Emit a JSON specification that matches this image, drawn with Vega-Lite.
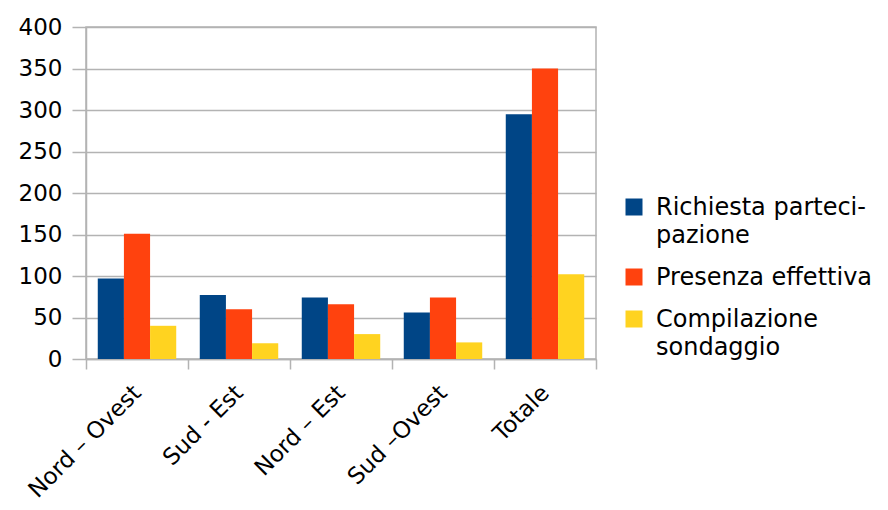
{
  "$schema": "https://vega.github.io/schema/vega-lite/v6.json",
  "width": 510,
  "height": 332,
  "autosize": "none",
  "padding": {"left": 86, "top": 27, "right": 292, "bottom": 151},
  "background": "white",
  "config": {
    "view": {"stroke": "#b3b3b3", "strokeWidth": 1.5},
    "font": "DejaVu Sans"
  },
  "data": {
    "values": [
      {"region": "Nord – Ovest", "series": "Richiesta partecipazione", "value": 97},
      {"region": "Nord – Ovest", "series": "Presenza effettiva", "value": 151},
      {"region": "Nord – Ovest", "series": "Compilazione sondaggio", "value": 40},
      {"region": "Sud - Est", "series": "Richiesta partecipazione", "value": 77},
      {"region": "Sud - Est", "series": "Presenza effettiva", "value": 60},
      {"region": "Sud - Est", "series": "Compilazione sondaggio", "value": 19},
      {"region": "Nord – Est", "series": "Richiesta partecipazione", "value": 74},
      {"region": "Nord – Est", "series": "Presenza effettiva", "value": 66},
      {"region": "Nord – Est", "series": "Compilazione sondaggio", "value": 30},
      {"region": "Sud –Ovest", "series": "Richiesta partecipazione", "value": 56},
      {"region": "Sud –Ovest", "series": "Presenza effettiva", "value": 74},
      {"region": "Sud –Ovest", "series": "Compilazione sondaggio", "value": 20},
      {"region": "Totale", "series": "Richiesta partecipazione", "value": 295},
      {"region": "Totale", "series": "Presenza effettiva", "value": 350},
      {"region": "Totale", "series": "Compilazione sondaggio", "value": 102}
    ]
  },
  "mark": {"type": "bar"},
  "encoding": {
    "x": {
      "field": "region",
      "type": "nominal",
      "sort": null,
      "title": null,
      "scale": {"paddingInner": 0, "paddingOuter": 0},
      "axis": {
        "tickBand": "extent",
        "labelAngle": -45,
        "labelAlign": "right",
        "labelBaseline": "middle",
        "labelFont": "DejaVu Sans",
        "labelFontSize": 23,
        "labelColor": "#000",
        "labelPadding": 20,
        "tickColor": "#b3b3b3",
        "tickSize": 10,
        "tickWidth": 1.5,
        "domainColor": "#b3b3b3",
        "domainWidth": 1.5,
        "grid": false
      }
    },
    "xOffset": {
      "field": "series",
      "sort": ["Richiesta partecipazione", "Presenza effettiva", "Compilazione sondaggio"],
      "scale": {"paddingInner": 0, "paddingOuter": 0.45}
    },
    "y": {
      "field": "value",
      "type": "quantitative",
      "title": null,
      "scale": {"domain": [0, 400], "nice": false},
      "axis": {
        "values": [0, 50, 100, 150, 200, 250, 300, 350, 400],
        "labelFont": "DejaVu Sans",
        "labelFontSize": 23,
        "labelColor": "#000",
        "labelPadding": 10,
        "tickSize": 14,
        "tickColor": "#b3b3b3",
        "tickWidth": 1.5,
        "gridColor": "#b3b3b3",
        "gridWidth": 1.5,
        "domainColor": "#b3b3b3",
        "domainWidth": 1.5
      }
    },
    "color": {
      "field": "series",
      "type": "nominal",
      "sort": ["Richiesta partecipazione", "Presenza effettiva", "Compilazione sondaggio"],
      "scale": {
        "domain": ["Richiesta partecipazione", "Presenza effettiva", "Compilazione sondaggio"],
        "range": ["#004586", "#ff420e", "#ffd320"]
      },
      "legend": {
        "title": null,
        "orient": "none",
        "legendX": 536,
        "legendY": 168,
        "padding": 0,
        "symbolType": "square",
        "symbolSize": 289,
        "symbolStrokeWidth": 0,
        "labelFont": "DejaVu Sans",
        "labelFontSize": 24,
        "labelColor": "#000",
        "labelOffset": 10,
        "labelLimit": 400,
        "labelBaseline": "alphabetic",
        "rowPadding": 17,
        "labelExpr": "datum.label == 'Richiesta partecipazione' ? ['Richiesta parteci-', 'pazione'] : datum.label == 'Compilazione sondaggio' ? ['Compilazione', 'sondaggio'] : datum.label",
        "encode": {
          "labels": {"update": {"dy": {"value": 8}, "lineHeight": {"value": 28}}}
        }
      }
    }
  }
}
